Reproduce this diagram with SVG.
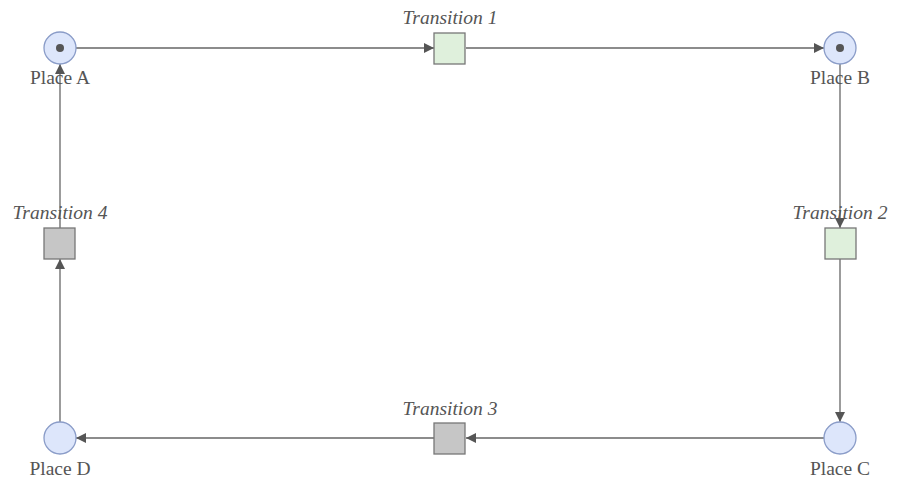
<svg xmlns="http://www.w3.org/2000/svg" width="902" height="488" viewBox="0 0 902 488">
<style>
.edge{stroke:#666;stroke-width:1.3;fill:none}
.place{fill:#dde6fb;stroke:#8a9cc8;stroke-width:1.3}
.token{fill:#555}
.tg{fill:#dff0dc;stroke:#777;stroke-width:1.3}
.tz{fill:#c6c6c6;stroke:#777;stroke-width:1.3}
.pl{font-family:"Liberation Serif",serif;font-size:19.5px;fill:#555;text-anchor:middle}
.tl{font-family:"Liberation Serif",serif;font-size:19.5px;font-style:italic;fill:#555;text-anchor:middle}
</style>
<defs>
<marker id="arr" viewBox="0 0 10 10" refX="10" refY="5" markerWidth="10" markerHeight="10" markerUnits="userSpaceOnUse" orient="auto">
<path d="M0,0 L10,5 L0,10 Z" fill="#555"/>
</marker>
</defs>
<rect width="902" height="488" fill="#fff"/>
<g id="edges">
<line class="edge" x1="76" y1="48" x2="434" y2="48" marker-end="url(#arr)"/>
<line class="edge" x1="466" y1="48" x2="824" y2="48" marker-end="url(#arr)"/>
<line class="edge" x1="840" y1="64" x2="840" y2="228" marker-end="url(#arr)"/>
<line class="edge" x1="840" y1="259" x2="840" y2="422" marker-end="url(#arr)"/>
<line class="edge" x1="824" y1="438" x2="466" y2="438" marker-end="url(#arr)"/>
<line class="edge" x1="434" y1="438" x2="76" y2="438" marker-end="url(#arr)"/>
<line class="edge" x1="60" y1="422" x2="60" y2="259" marker-end="url(#arr)"/>
<line class="edge" x1="60" y1="228" x2="60" y2="64" marker-end="url(#arr)"/>
</g>
<g id="placeA"><circle class="place" cx="60" cy="48" r="16"/><circle class="token" cx="60" cy="48" r="4"/><text class="pl" x="60" y="84">Place A</text></g>
<g id="placeB"><circle class="place" cx="840" cy="48" r="16"/><circle class="token" cx="840" cy="48" r="4"/><text class="pl" x="840" y="84">Place B</text></g>
<g id="placeC"><circle class="place" cx="840" cy="438" r="16"/><text class="pl" x="840" y="475">Place C</text></g>
<g id="placeD"><circle class="place" cx="60" cy="438" r="16"/><text class="pl" x="60" y="475">Place D</text></g>
<g id="t1"><rect class="tg" x="434" y="33" width="31" height="31"/><text class="tl" x="450" y="24">Transition 1</text></g>
<g id="t2"><rect class="tg" x="825" y="228" width="31" height="31"/><text class="tl" x="840" y="219">Transition 2</text></g>
<g id="t3"><rect class="tz" x="434" y="423" width="31" height="31"/><text class="tl" x="450" y="415">Transition 3</text></g>
<g id="t4"><rect class="tz" x="44" y="228" width="31" height="31"/><text class="tl" x="60" y="219">Transition 4</text></g>
</svg>
